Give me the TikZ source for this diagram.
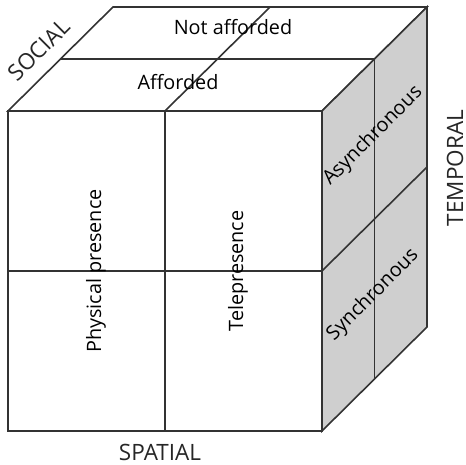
\documentclass[tikz,border=0pt]{standalone}
\usepackage{fontspec}
\setmainfont{Open Sans}
\begin{document}
\begin{tikzpicture}[x=1pt,y=1pt,
  edge/.style={draw=black!80,line width=1.6pt,line join=miter},
  side/.style={edge,fill=black!19},
  lab/.style={font=\fontsize{19.8}{23}\selectfont,inner sep=0pt,text=black},
  axis/.style={font=\fontsize{22.5}{26}\selectfont,inner sep=0pt,text=black!85}]
\useasboundingbox (0,0) rectangle (466,465);
% corners
\coordinate (A) at (8,34);    % front bottom left
\coordinate (B) at (322,34);  % front bottom right
\coordinate (C) at (322,354); % front top right
\coordinate (D) at (8,354);   % front top left
\coordinate (Bb) at (427,138);
\coordinate (Cb) at (427,458);
\coordinate (Db) at (113,458);
% midpoints
\coordinate (Fm1) at (165,34);
\coordinate (Fm2) at (165,354);
\coordinate (Fh1) at (8,194);
\coordinate (Fh2) at (322,194);
\coordinate (Tm) at (270,458);
\coordinate (Td1) at (60.5,406);
\coordinate (Td2) at (374.5,406);
\coordinate (Sd1) at (374.5,86);
\coordinate (Sh2) at (427,298);
% faces
\draw[edge,fill=white] (A) -- (B) -- (C) -- (D) -- cycle;
\draw[edge,fill=white] (D) -- (C) -- (Cb) -- (Db) -- cycle;
\draw[side] (B) -- (Bb) -- (Cb) -- (C) -- cycle;
% dividers
\draw[edge] (Fm1) -- (Fm2) -- (Tm);
\draw[edge] (Fh1) -- (Fh2) -- (Sh2);
\draw[edge] (Td1) -- (Td2) -- (Sd1);
% labels
\node[lab] (na) at (233,438) {Not afforded};
\node[lab] (af) at (178,383) {Afforded};
\node[lab,rotate=90] (pp) at (96,194) {Physical presence};
\node[lab,rotate=90] (tp) at (238,194) {Telepresence};
\node[lab,rotate=45] (as) at (373,329) {Asynchronous};
\node[lab,rotate=45] (sy) at (373,170) {Synchronous};
\node[axis,rotate=45] (so) at (39,415) {SOCIAL};
\node[axis,rotate=90] (te) at (455,297) {TEMPORAL};
\node[axis] (sp) at (160,13) {SPATIAL};
\end{tikzpicture}
\end{document}
